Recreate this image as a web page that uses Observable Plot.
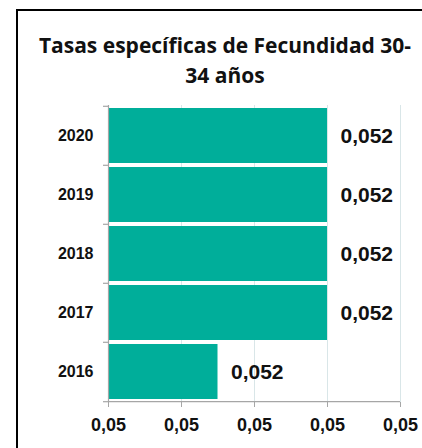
<!DOCTYPE html>
<html>
<head>
<meta charset="utf-8">
<script src="https://cdn.jsdelivr.net/npm/d3@7"></script>
<script src="https://cdn.jsdelivr.net/npm/@observablehq/plot@0.6"></script>
<style>
  html, body { margin: 0; padding: 0; background: #fff; }
  #wrap { position: relative; width: 422px; height: 448px; overflow: hidden; background: #fff; }
  #frame { position: absolute; left: 16px; top: 9px; width: 600px; height: 600px; border: 2px solid #000; box-sizing: border-box; }
  #title { position: absolute; left: 16px; width: 418px; top: 30px; text-align: center;
           font-family: "Open Sans", Lato, sans-serif; font-weight: 700; font-size: 21px; line-height: 30px; color: #111; }
  #chart { position: absolute; left: 0; top: 0; }
</style>
</head>
<body>
<div id="wrap">
  <div id="frame"></div>
  <div id="title">Tasas específicas de Fecundidad 30-<br>34 años</div>
  <div id="chart"></div>
</div>
<script>
const titleText = "Tasas específicas de Fecundidad 30-34 años";
const years = ["2020", "2019", "2018", "2017", "2016"];
const values = [0.0519, 0.0519, 0.0519, 0.0519, 0.05175];
const xTicks = [0.0516, 0.0517, 0.0518, 0.0519, 0.0520];

const data = years.map((y, i) => ({year: y, value: values[i]}));
const xmin = xTicks[0], xmax = xTicks[xTicks.length - 1];
const comma = s => s.replace(".", ",");
const fmtTick = d => comma(d3.format(".2f")(d));
const fmtVal = d => comma(d3.format(".3f")(d));

const W = 422, H = 448, mt = 105, mb = 46, ml = 108, mr = 22;
const step = (H - mt - mb) / years.length;
const axisGray = "#a6a6a6";
const font = "'Liberation Sans', Arial, sans-serif";

const chart = Plot.plot({
  width: W, height: H,
  marginTop: mt, marginBottom: mb, marginLeft: ml, marginRight: mr,
  style: {fontFamily: font, background: "transparent", overflow: "visible"},
  x: {domain: [xmin, xmax]},
  y: {domain: years, paddingInner: 0.06, paddingOuter: 0.03},
  marks: [
    Plot.ruleX(xTicks.slice(1), {stroke: "#d9e6e8", strokeWidth: 1}),
    Plot.barX(data, {y: "year", x1: xmin, x2: "value", fill: "#00ae9a"}),
    Plot.ruleX([xmin], {stroke: axisGray, strokeWidth: 1.2}),
    Plot.ruleY(["2016"], {x1: xmin, x2: xmax, dy: step / 2, stroke: axisGray, strokeWidth: 1.2}),
    Plot.ruleY(years, {x1: xmin, x2: xmin, insetLeft: -5, dy: -step / 2, stroke: axisGray, strokeWidth: 1.2}),
    Plot.ruleY(["2016"], {x1: xmin, x2: xmin, insetLeft: -5, dy: step / 2, stroke: axisGray, strokeWidth: 1.2}),
    Plot.axisX({ticks: xTicks, tickFormat: fmtTick, tickSize: 5, tickPadding: 11, stroke: axisGray,
                fontSize: 18, fontWeight: "bold", fill: "#111", label: null}),
    Plot.axisY({tickSize: 0, tickPadding: 15, fontSize: 16, fontWeight: "bold", fill: "#111", label: null}),
    Plot.text(data, {y: "year", x: "value", text: d => fmtVal(d.value), textAnchor: "start", dx: 13,
                     fontSize: 21, fontWeight: "bold", fill: "#111"})
  ]
});
document.getElementById("chart").appendChild(chart);
</script>
</body>
</html>
